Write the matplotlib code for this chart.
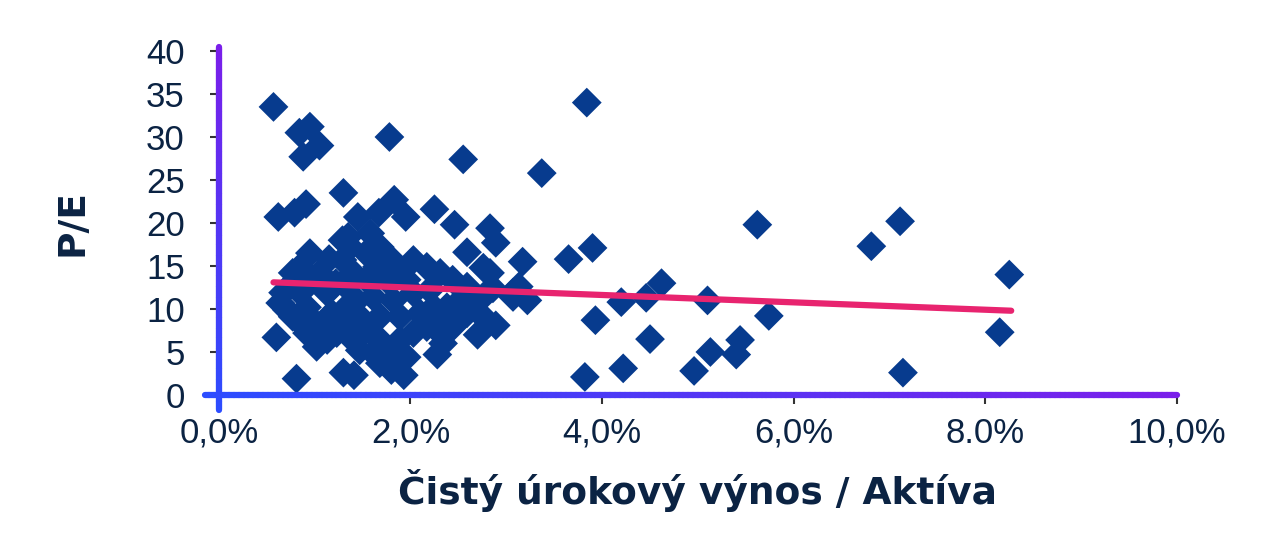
import numpy as np
import matplotlib.pyplot as plt
from matplotlib.collections import LineCollection
from matplotlib.colors import LinearSegmentedColormap

# net interest income / assets (%) vs P/E
nim = [0.57, 0.84, 0.95, 1.05, 0.88, 1.78, 3.84, 2.55, 3.37, 1.30, 0.62, 0.79, 0.91,
       1.83, 1.45, 1.67, 1.95, 2.25, 2.46, 2.83, 2.89, 2.59, 2.76, 3.17, 3.65, 3.90,
       3.13, 3.22, 3.93, 3.82, 2.89, 2.70, 0.60, 0.81, 1.30, 1.41, 1.93, 1.80, 1.68,
       2.28, 2.34,
       5.62, 7.11, 6.81, 8.25, 8.15, 7.14, 5.74, 5.44, 5.40, 5.13, 5.10, 4.96, 4.62,
       4.46, 4.50, 4.22, 4.20, 3.07,
       1.35, 1.58, 1.68, 2.03, 2.17, 2.31, 2.44,
       0.95, 0.85, 0.77, 0.67, 0.64, 0.71, 0.85, 0.92, 1.02, 1.13, 1.23, 1.18, 1.13,
       1.05, 0.95, 0.85, 0.92, 0.77, 0.98,
       1.37, 1.29, 1.40, 1.54, 1.65, 1.78, 1.89, 1.96, 1.75, 1.54, 1.33, 1.44, 1.61,
       1.82, 2.03, 2.20, 2.24, 2.10, 1.89, 1.68, 1.47, 1.33, 1.29, 1.40, 1.54, 1.68,
       1.75, 1.89, 2.03, 1.96, 2.17, 2.31, 2.38, 1.47, 1.61,
       2.52, 2.59, 2.65, 2.80, 2.86, 2.72, 2.59, 2.44, 3.07, 2.83, 1.29, 2.31,
       1.15, 0.75, 1.08, 1.22]
pe = [33.5, 30.5, 31.2, 29.0, 27.7, 30.0, 34.0, 27.4, 25.8, 23.5, 20.7, 21.2, 22.2,
      22.7, 20.7, 21.2, 20.7, 21.6, 19.8, 19.4, 17.7, 16.6, 14.8, 15.5, 15.8, 17.1,
      12.6, 11.0, 8.7, 2.1, 8.1, 7.0, 6.7, 1.9, 2.6, 2.3, 2.3, 2.9, 3.7,
      4.7, 6.0,
      19.8, 20.2, 17.3, 14.0, 7.3, 2.6, 9.2, 6.4, 4.7, 5.0, 11.0, 2.8, 13.0,
      11.3, 6.5, 3.1, 10.8, 11.4,
      18.4, 18.8, 17.2, 15.7, 14.9, 14.2, 13.4,
      16.5, 14.9, 14.2, 11.9, 10.7, 9.9, 8.4, 7.2, 5.6, 6.4, 7.2, 9.5, 11.9,
      14.2, 13.0, 11.9, 10.2, 9.1, 8.7,
      17.2, 15.7, 14.2, 16.5, 14.9, 16.0, 14.5, 13.4, 13.4, 13.4, 12.6, 11.0, 11.4,
      11.0, 11.9, 12.2, 10.2, 9.5, 9.1, 9.1, 9.1, 10.2, 7.9, 6.4, 7.6, 6.4,
      4.9, 6.4, 7.2, 4.4, 7.9, 8.7, 10.2, 5.2, 4.9,
      11.0, 12.6, 10.7, 11.9, 12.4, 9.5, 9.5, 7.9, 11.9, 14.2, 18.0, 7.2,
      15.8, 12.8, 8.0, 13.0]

trend_x = [0.57, 8.27]
trend_y = [13.1, 9.8]

x_ticks = [0, 2, 4, 6, 8, 10]
x_labels = ['0,0%', '2,0%', '4,0%', '6,0%', '8.0%', '10,0%']
y_ticks = [0, 5, 10, 15, 20, 25, 30, 35, 40]

navy = '#0b2343'
blue_purple = LinearSegmentedColormap.from_list('bp', ['#2c4dff', '#7a1fea'])

fig = plt.figure(figsize=(12.8, 5.34), dpi=100)
ax = fig.add_axes([0.171, 0.2603, 0.7485, 0.6442])
ax.set_xlim(0, 10)
ax.set_ylim(0, 40)

ax.scatter(nim, pe, marker='D', s=230, color='#073b8e', edgecolors='none', zorder=3)
ax.plot(trend_x, trend_y, color='#e8246f', lw=4.5, solid_capstyle='round', zorder=4)


def gradient_line(x0, y0, x1, y1):
    t = np.linspace(0, 1, 200)
    xs = x0 + (x1 - x0) * t
    ys = y0 + (y1 - y0) * t
    pts = np.column_stack([xs, ys]).reshape(-1, 1, 2)
    segs = np.concatenate([pts[:-1], pts[1:]], axis=1)
    lc = LineCollection(segs, cmap=blue_purple, linewidths=4.5, capstyle='round',
                        clip_on=False, zorder=5)
    lc.set_array(t[:-1])
    ax.add_collection(lc)


gradient_line(-0.15, 0, 10, 0)
gradient_line(0, -1.7, 0, 40.5)

for s in ax.spines.values():
    s.set_visible(False)

ax.set_xticks(x_ticks)
ax.set_xticklabels(x_labels)
ax.set_yticks(y_ticks)
ax.tick_params(axis='both', colors='#333333', labelcolor=navy, labelsize=25,
               length=6.5, width=1.5)
ax.tick_params(axis='y', pad=18)
ax.tick_params(axis='x', pad=9)
for lab in ax.get_xticklabels() + ax.get_yticklabels():
    lab.set_family(['Liberation Sans', 'DejaVu Sans'])

ax.set_xlabel('Čistý úrokový výnos / Aktíva', fontsize=27, fontweight='heavy',
              color=navy, family=['DejaVu Sans'], labelpad=14)
ax.set_ylabel('P/E', fontsize=27, fontweight='heavy', color=navy,
              family=['DejaVu Sans'], labelpad=40)

fig.savefig('out.png', dpi=100)
